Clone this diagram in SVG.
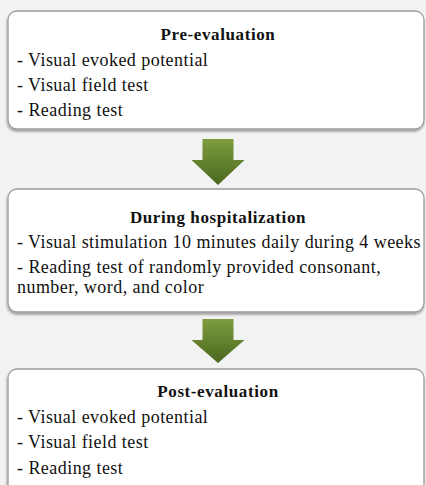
<svg xmlns="http://www.w3.org/2000/svg" width="426" height="485" viewBox="0 0 426 485">
  <defs>
    <filter id="sh" x="-5%" y="-10%" width="110%" height="125%">
      <feDropShadow dx="-0.5" dy="2" stdDeviation="1.3" flood-color="#000" flood-opacity="0.35"/>
    </filter>
    <linearGradient id="ag" x1="0" y1="0" x2="0" y2="1">
      <stop offset="0" stop-color="#7d9d3d"/>
      <stop offset="1" stop-color="#4b6720"/>
    </linearGradient>
    <style>
      .box { fill: #ffffff; stroke: #9c9c9c; stroke-width: 1.3; filter: url(#sh); }
      .t { font-family: "Liberation Serif", "Times New Roman", serif; font-size: 18px; letter-spacing: 0.45px; fill: #111; }
      .h { font-family: "Liberation Serif", "Times New Roman", serif; font-size: 17px; font-weight: bold; letter-spacing: 0.6px; fill: #111; text-anchor: middle; }
      .arrow { fill: url(#ag); }
    </style>
  </defs>
  <rect width="426" height="485" fill="#f2f2f2"/>

  <g id="pre-evaluation">
    <rect class="box" x="8" y="11" width="416" height="118" rx="9" ry="9"/>
    <text class="h" x="218" y="40">Pre-evaluation</text>
    <text class="t" x="17" y="66">- Visual evoked potential</text>
    <text class="t" x="17" y="91">- Visual field test</text>
    <text class="t" x="17" y="116">- Reading test</text>
  </g>

  <g id="during-hospitalization">
    <rect class="box" x="8" y="189" width="416" height="123" rx="9" ry="9"/>
    <text class="h" x="218" y="223">During hospitalization</text>
    <text class="t" x="17" y="248">- Visual stimulation 10 minutes daily during 4 weeks</text>
    <text class="t" x="17" y="273">- Reading test of randomly provided consonant,</text>
    <text class="t" x="17" y="293">number, word, and color</text>
  </g>

  <g id="post-evaluation">
    <rect class="box" x="8" y="369" width="416" height="125" rx="9" ry="9"/>
    <text class="h" x="218" y="397">Post-evaluation</text>
    <text class="t" x="17" y="423">- Visual evoked potential</text>
    <text class="t" x="17" y="448">- Visual field test</text>
    <text class="t" x="17" y="474">- Reading test</text>
  </g>

  <g id="connectors">
    <polygon class="arrow" points="202.5,139 233.5,139 233.5,160 244.5,160 218,185 191.5,160 202.5,160"/>
    <polygon class="arrow" points="202.5,319 233.5,319 233.5,340 244.5,340 218,363 191.5,340 202.5,340"/>
  </g>
</svg>
